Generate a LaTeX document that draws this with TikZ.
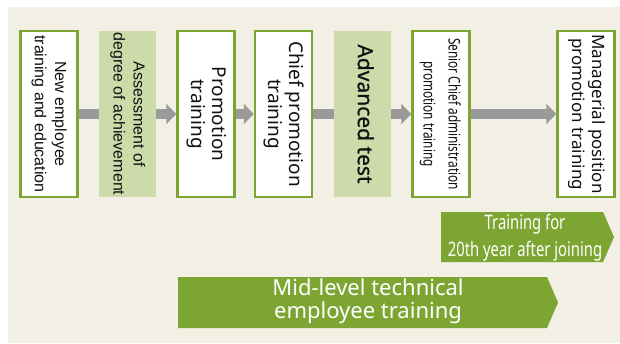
\documentclass[tikz,border=0pt]{standalone}
\usepackage{fontspec}
\setmainfont{Noto Sans}
\newfontfamily\medfont[FakeBold=0.6]{Noto Sans}
\newfontfamily\arialish{Liberation Sans}
\usetikzlibrary{arrows.meta,backgrounds}
\definecolor{bg}{HTML}{F2EFE4}
\definecolor{leaf}{HTML}{7DA532}
\definecolor{pale}{HTML}{CDDAA9}
\definecolor{arr}{HTML}{9A9A9A}
\definecolor{ink}{HTML}{111111}
\newcommand{\vt}[4][1]{\rotatebox{-90}{\fontsize{#2}{#3}\selectfont\scalebox{#1}[1]{\begin{tabular}{@{}c@{}}#4\end{tabular}}}}
\begin{document}
\begin{tikzpicture}[x=1pt,y=-1pt,
  stage/.style={draw=leaf, line width=2.5pt, fill=white, text=ink,
    minimum width=57pt, minimum height=166pt, inner sep=0pt},
  gate/.style={fill=pale, text=ink, minimum width=57pt, minimum height=166pt, inner sep=0pt},
  flow/.style={draw=arr, line width=10pt, -{Triangle[width=20pt,length=10pt]}},
  band/.style={fill=leaf},
  bandtext/.style={text=white, align=center, inner sep=0pt}]
\useasboundingbox (0,0) rectangle (620,343);
\begin{pgfonlayer}{background}
  \fill[bg] (8,7) rectangle (620,343);
\end{pgfonlayer}
\node[stage] (b1) at (49,114) {\arialish\vt{16}{20}{New employee\\training and education}};
\node[gate]  (b2) at (127.5,114) {\arialish\vt{16}{20}{Assessment of\\degree of achievement}};
\node[stage] (b3) at (206,114) {\vt{19}{21}{Promotion\\training}};
\node[stage] (b4) at (283.5,114) {\vt{19}{21}{Chief promotion\\training}};
\node[gate]  (b5) at (362.5,114) {\vt{21}{22}{\medfont Advanced test}};
\node[stage] (b6) at (441,114) {\vt[0.74]{16}{25}{Senior Chief administration\\promotion training}};
\node[stage] (b7) at (586,114) {\vt{17}{20}{Managerial position\\promotion training}};
\begin{pgfonlayer}{background}
  \draw[flow] (b1.east) -- (b3.west);
  \draw[flow] (b3.east) -- (b4.west);
  \draw[flow] (b4.east) -- (b6.west);
  \draw[flow] (b6.east) -- (b7.west);
\end{pgfonlayer}
\fill[band] (441,212) -- (603,212) -- (614,237) -- (603,262) -- (441,262) -- cycle;
\node[bandtext] (t20) at (525,238) {\fontsize{20}{27}\selectfont\scalebox{0.74}[1]{\begin{tabular}{@{}c@{}}Training for\\20th year after joining\end{tabular}}};
\fill[band] (178,277) -- (547,277) -- (558,302.5) -- (547,328) -- (178,328) -- cycle;
\node[bandtext] (mid) at (368,302) {\fontsize{22}{22}\selectfont\begin{tabular}{@{}c@{}}Mid-level technical\\employee training\end{tabular}};
\end{tikzpicture}
\end{document}
